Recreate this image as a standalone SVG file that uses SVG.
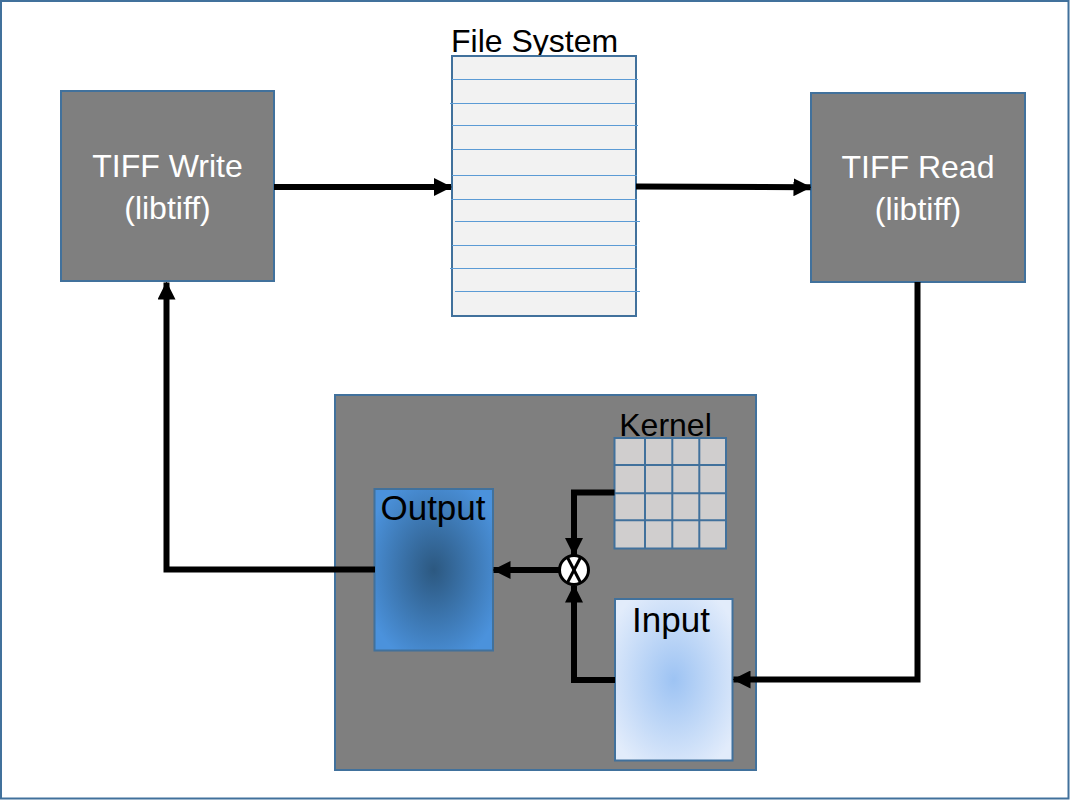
<svg xmlns="http://www.w3.org/2000/svg" width="1070" height="800" viewBox="0 0 1070 800">
<defs>
<style>
.box{fill:#7f7f7f;stroke:#41719c;stroke-width:2}
.wt{fill:#ffffff;font-family:"Liberation Sans",Arial,sans-serif;font-size:32px;text-anchor:middle}
.bt{fill:#000000;font-family:"Liberation Sans",Arial,sans-serif;font-size:32px;text-anchor:middle}
.big{font-size:35px}
.conn{fill:none;stroke:#000000;stroke-width:6;stroke-linejoin:miter}
.fl{stroke:#5b9bd5;stroke-width:1.2}
.kg{stroke:#41719c;stroke-width:2}
</style>
<marker id="ah" markerUnits="userSpaceOnUse" markerWidth="18" markerHeight="18" viewBox="0 0 18 18" refX="17" refY="9" orient="auto">
<path d="M0,0 L18,9 L0,18 Z" fill="#000000"/>
</marker>
<radialGradient id="gOut" cx="0.5" cy="0.5" r="0.6">
<stop offset="0" stop-color="#2c5880"/>
<stop offset="1" stop-color="#4b92dc"/>
</radialGradient>
<radialGradient id="gIn" cx="0.5" cy="0.5" r="0.62">
<stop offset="0" stop-color="#9dc3f3"/>
<stop offset="1" stop-color="#e2ecfb"/>
</radialGradient>
</defs>
<rect x="1" y="1" width="1067.5" height="797.5" fill="#ffffff" stroke="#41719c" stroke-width="2"/>

<g id="tiff-write">
<rect class="box" x="61" y="91" width="213" height="190"/>
<text class="wt" x="167.5" y="177">TIFF Write</text>
<text class="wt" x="167.5" y="219">(libtiff)</text>
</g>

<g id="file-system">
<text class="bt" x="451" y="52" style="text-anchor:start">File System</text>
<rect x="452" y="56" width="184" height="260" fill="#f2f2f2" stroke="#41719c" stroke-width="2"/>
<line class="fl" x1="452" y1="79.5" x2="638" y2="79.5"/>
<line class="fl" x1="450" y1="103.5" x2="636" y2="103.5"/>
<line class="fl" x1="452" y1="125.5" x2="638" y2="125.5"/>
<line class="fl" x1="452" y1="149.5" x2="636" y2="149.5"/>
<line class="fl" x1="452" y1="175.5" x2="637" y2="175.5"/>
<line class="fl" x1="451" y1="199.5" x2="637" y2="199.5"/>
<line class="fl" x1="455" y1="221.5" x2="640" y2="221.5"/>
<line class="fl" x1="452" y1="245.5" x2="637" y2="245.5"/>
<line class="fl" x1="450" y1="268.5" x2="637" y2="268.5"/>
<line class="fl" x1="455" y1="291.5" x2="640" y2="291.5"/>
</g>

<g id="tiff-read">
<rect class="box" x="811" y="93" width="214" height="189"/>
<text class="wt" x="918" y="178">TIFF Read</text>
<text class="wt" x="918" y="220">(libtiff)</text>
</g>

<g id="processing">
<rect class="box" x="335" y="395" width="421" height="375"/>
</g>

<g id="kernel">
<text class="bt" x="665.5" y="436">Kernel</text>
<rect x="614.5" y="438" width="111.5" height="110.5" fill="#d0cece" stroke="#41719c" stroke-width="2"/>
<line class="kg" x1="645" y1="438" x2="645" y2="548.5"/>
<line class="kg" x1="672.3" y1="438" x2="672.3" y2="548.5"/>
<line class="kg" x1="699.3" y1="438" x2="699.3" y2="548.5"/>
<line class="kg" x1="614.5" y1="465" x2="726" y2="465"/>
<line class="kg" x1="614.5" y1="493.3" x2="726" y2="493.3"/>
<line class="kg" x1="614.5" y1="520.3" x2="726" y2="520.3"/>
</g>

<g id="output">
<rect x="374.5" y="489" width="118.5" height="161.5" fill="url(#gOut)" stroke="#41719c" stroke-width="2"/>
<text class="bt big" x="433" y="520">Output</text>
</g>

<g id="input">
<rect x="615" y="599" width="117.5" height="161.5" fill="url(#gIn)" stroke="#41719c" stroke-width="2"/>
<text class="bt big" x="671" y="632">Input</text>
</g>

<g id="multiply">
<circle cx="574" cy="570" r="14.5" fill="#ffffff" stroke="#000000" stroke-width="3"/>
<line x1="567.5" y1="557.5" x2="580.5" y2="582.5" stroke="#000000" stroke-width="3"/>
<line x1="580.5" y1="557.5" x2="567.5" y2="582.5" stroke="#000000" stroke-width="3"/>
</g>

<g id="connectors">
<path class="conn" d="M274,187 L451,187" marker-end="url(#ah)"/>
<path class="conn" d="M636,186.5 L810.5,187.3" marker-end="url(#ah)"/>
<path class="conn" d="M917.5,282 L917.5,679.5 L733.5,679.5" marker-end="url(#ah)"/>
<path class="conn" d="M375,569.5 L166.5,569.5 L166.5,282.5" marker-end="url(#ah)"/>
<path class="conn" d="M614.5,492.5 L574,492.5 L574,555" marker-end="url(#ah)"/>
<path class="conn" d="M615,680 L574,680 L574,585.5" marker-end="url(#ah)"/>
<path class="conn" d="M559.5,570 L493.5,570" marker-end="url(#ah)"/>
</g>
</svg>
